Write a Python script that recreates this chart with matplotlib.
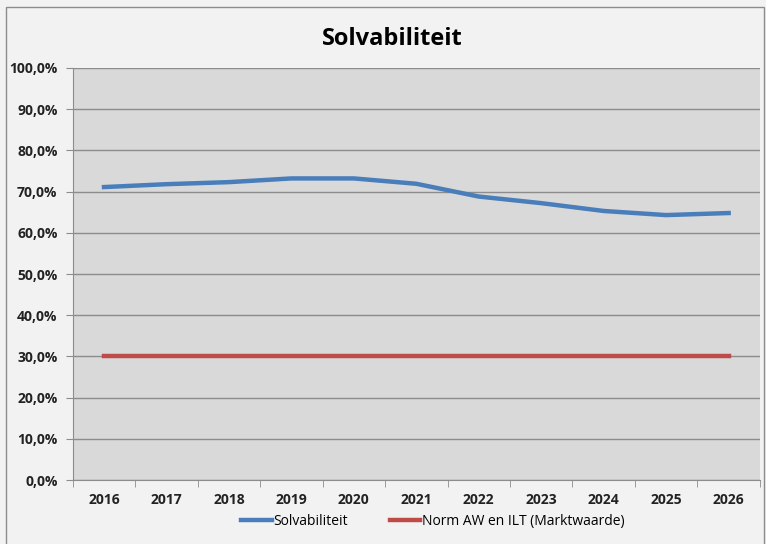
import matplotlib.pyplot as plt
import numpy as np
from matplotlib.patches import Rectangle
from matplotlib.ticker import FuncFormatter, FixedLocator

plt.rcParams['font.family'] = ['Open Sans', 'DejaVu Sans']

years = ['2016', '2017', '2018', '2019', '2020', '2021', '2022', '2023', '2024', '2025', '2026']
solvabiliteit = [71.1, 71.8, 72.3, 73.2, 73.2, 71.9, 68.8, 67.2, 65.3, 64.3, 64.8]
norm = [30.0] * len(years)

fig = plt.figure(figsize=(7.66, 5.44), dpi=100)
fig.patch.set_facecolor('#f2f2f2')
# kader om de grafiek
fig.patches.append(Rectangle((0.008, -0.01), 0.990, 0.997, transform=fig.transFigure,
                             fill=False, edgecolor='#8c8c8c', linewidth=1.0))

ax = fig.add_axes([0.095, 0.1176, 0.897, 0.7574])
ax.set_facecolor('#d9d9d9')

x = np.arange(len(years))
ax.plot(x, solvabiliteit, color='#4a7ebb', linewidth=3.2, label='Solvabiliteit', zorder=3)
ax.plot(x, norm, color='#be4b48', linewidth=3.2, label='Norm AW en ILT (Marktwaarde)', zorder=3)

ax.set_xlim(-0.5, len(years) - 0.5)
ax.set_ylim(0, 100)
ax.set_yticks(np.arange(0, 101, 10))
ax.yaxis.set_major_formatter(FuncFormatter(lambda v, p: f"{v:.1f}%".replace('.', ',')))
ax.grid(axis='y', color='#8c8c8c', linewidth=1.0, zorder=1)
ax.set_axisbelow(True)

ax.set_xticks(x)
ax.set_xticklabels(years)
ax.xaxis.set_minor_locator(FixedLocator(np.arange(-0.5, len(years), 1)))
ax.tick_params(axis='x', which='major', length=0, pad=9)
ax.tick_params(axis='x', which='minor', length=5, color='#8c8c8c', direction='out')
ax.tick_params(axis='y', length=5, color='#8c8c8c', pad=6)
for lab in ax.get_xticklabels() + ax.get_yticklabels():
    lab.set_fontweight('bold')
    lab.set_fontsize(10)
    lab.set_color('#222222')

for s in ['top', 'right']:
    ax.spines[s].set_visible(False)
for s in ['left', 'bottom']:
    ax.spines[s].set_color('#8c8c8c')

fig.text(0.512, 0.928, 'Solvabiliteit', ha='center', va='center', fontsize=17, fontweight='bold')

fig.legend(loc='center', bbox_to_anchor=(0.565, 0.042), ncol=2, frameon=False,
           fontsize=10, handlelength=2.2, handletextpad=0.1, columnspacing=3)

fig.savefig('out.png', dpi=100, facecolor=fig.get_facecolor())
